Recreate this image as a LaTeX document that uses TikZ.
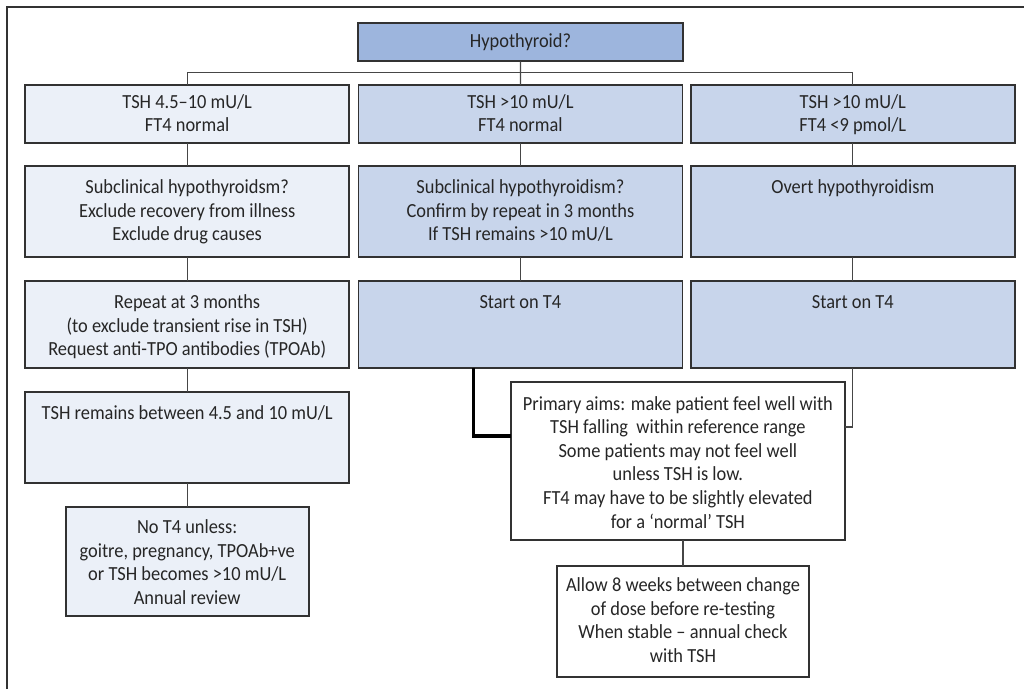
\documentclass[tikz,border=0pt]{standalone}
\usepackage{fontspec}
\setmainfont{Carlito}[FakeStretch=0.92]
\definecolor{hypfill}{RGB}{157,181,221}
\definecolor{midfill}{RGB}{200,213,235}
\definecolor{lightfill}{RGB}{235,240,248}
\definecolor{edgecol}{RGB}{50,50,50}
\definecolor{conncol}{RGB}{70,70,70}
\newcommand{\bxt}[4]{\parbox[c][#2pt][t]{#1pt}{\centering\vspace*{#3pt}\strut#4\par}}
\tikzset{
  boxnode/.style={draw=edgecol, line width=1.8pt, inner sep=0pt, outer sep=0pt,
    font=\fontsize{20}{23.6}\selectfont, text=black!85},
  conn/.style={draw=conncol, line width=1.3pt},
  thickconn/.style={draw=black, line width=3.2pt},
  framel/.style={draw=edgecol, line width=2pt}
}
\begin{document}
\begin{tikzpicture}[x=1pt,y=-1pt]
\useasboundingbox (0,0) rectangle (1024,689);
\draw[framel] (7.3,689) -- (7.3,6.7) -- (1024,6.7);

\node[boxnode, fill=hypfill] (hyp) at (520.5,42) {\bxt{325}{38.6}{7.8}{Hypothyroid?}};

\node[boxnode, fill=lightfill] (r1L) at (187.2,113.85) {\bxt{324}{57.7}{6.85}{TSH 4.5–10 mU/L\\FT4 normal}};
\node[boxnode, fill=midfill] (r1M) at (520.4,113.85) {\bxt{324}{57.7}{6.85}{TSH >10 mU/L\\FT4 normal}};
\node[boxnode, fill=midfill] (r1R) at (852.8,113.85) {\bxt{324}{57.7}{6.85}{TSH >10 mU/L\\FT4 <9 pmol/L}};

\node[boxnode, fill=lightfill] (r2L) at (187.2,211.65) {\bxt{324}{91.3}{11}{Subclinical hypothyroidsm?\\Exclude recovery from illness\\Exclude drug causes}};
\node[boxnode, fill=midfill] (r2M) at (520.4,211.65) {\bxt{324}{91.3}{11}{Subclinical hypothyroidism?\\Confirm by repeat in 3 months\\If TSH remains >10 mU/L}};
\node[boxnode, fill=midfill] (r2R) at (852.8,211.65) {\bxt{324}{91.3}{11}{Overt hypothyroidism}};

\node[boxnode, fill=lightfill] (r3L) at (187.2,324.65) {\bxt{324}{87.3}{11}{Repeat at 3 months\\(to exclude transient rise in TSH)\\Request anti-TPO antibodies (TPOAb)}};
\node[boxnode, fill=midfill] (r3M) at (520.4,324.65) {\bxt{324}{87.3}{11}{Start on T4}};
\node[boxnode, fill=midfill] (r3R) at (852.8,324.65) {\bxt{324}{87.3}{11}{Start on T4}};

\node[boxnode, fill=lightfill] (r4L) at (187.2,437.8) {\bxt{324}{91}{11}{TSH remains between 4.5 and 10 mU/L}};
\node[boxnode, fill=lightfill] (r5L) at (187.2,561.35) {\bxt{243}{109.3}{10.25}{No T4 unless:\\goitre, pregnancy, TPOAb+ve\\or TSH becomes >10 mU/L\\Annual review}};

\node[boxnode, fill=white] (prim) at (677.85,460.85) {\bxt{334.3}{158.3}{11.85}{Primary aims: make patient feel well with\\TSH falling\ \ within reference range\\Some patients may not feel well\\unless TSH is low.\\FT4 may have to be slightly elevated\\for a ‘normal’ TSH}};
\node[boxnode, fill=white] (allow) at (683,621.2) {\bxt{252.6}{111}{9.55}{Allow 8 weeks between change\\of dose before re-testing\\When stable – annual check\\with TSH}};

\coordinate (bar) at (0,72.7);
\coordinate (tk) at (473.8,436);
\coordinate (rk) at (0,427);

\draw[conn] (hyp.south) -- (r1M.north);
\draw[conn] (r1L.north) -- (r1L.north |- bar) -- (r1R.north |- bar) -- (r1R.north);
\draw[conn] (r1L.south) -- (r2L.north);
\draw[conn] (r2L.south) -- (r3L.north);
\draw[conn] (r3L.south) -- (r4L.north);
\draw[conn] (r4L.south) -- (r5L.north);
\draw[conn] (r1M.south) -- (r2M.north);
\draw[conn] (r2M.south) -- (r3M.north);
\draw[conn] (r1R.south) -- (r2R.north);
\draw[conn] (r2R.south) -- (r3R.north);
\draw[thickconn] (r3M.south -| tk) |- (prim.west |- tk);
\draw[conn] (r3R.south) |- (prim.east |- rk);
\draw[conn] (prim.south -| allow.north) -- (allow.north);
\end{tikzpicture}
\end{document}
